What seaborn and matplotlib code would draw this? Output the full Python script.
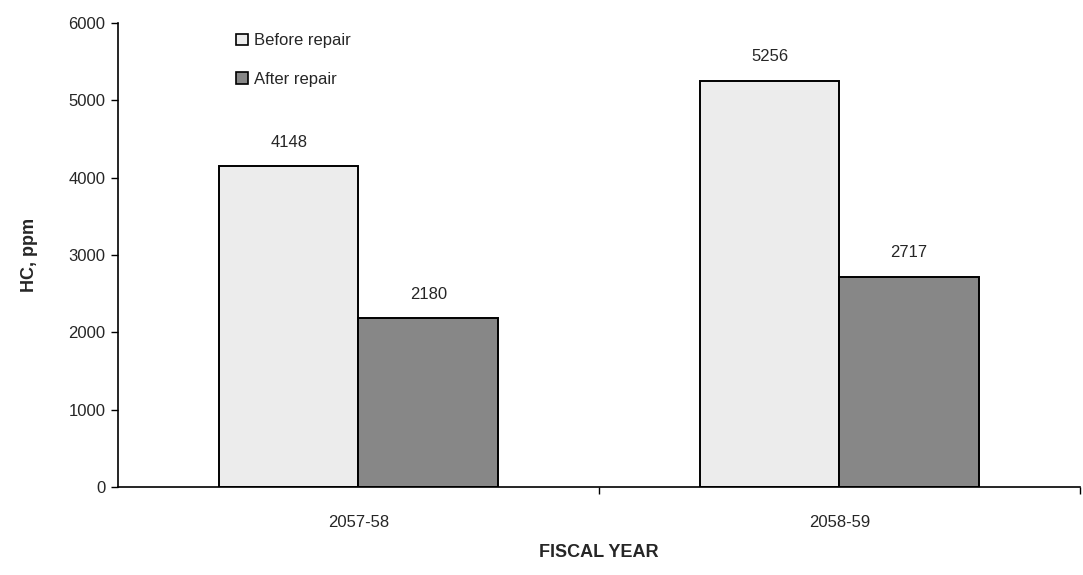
import pandas as pd
import numpy as np
import matplotlib.pyplot as plt
import seaborn as sns

years = ["2057-58", "2058-59"]
stages = ["Before repair", "After repair"]
before_repair = [4148, 5256]
after_repair = [2180, 2717]

# long format table for seaborn
df = pd.DataFrame({
    "year": years * 2,
    "stage": [stages[0]] * len(years) + [stages[1]] * len(years),
    "hc": before_repair + after_repair,
})

sns.set_style("white")
plt.rcParams["font.family"] = ["Liberation Sans", "DejaVu Sans"]

fig = plt.figure(figsize=(10.83, 5.75), dpi=100)
ax = fig.add_axes([0.109, 0.153, 0.888, 0.807])

palette = {stages[0]: "#ececec", stages[1]: "#878787"}
sns.barplot(data=df, x="year", y="hc", hue="stage", hue_order=stages,
            palette=palette, width=0.58, edgecolor="black", linewidth=1.4,
            saturation=1, ax=ax)

for container in ax.containers:
    ax.bar_label(container, fmt="%d", padding=12, fontsize=12)

ax.set_xlim(-0.5, 1.5)
ax.set_ylim(0, 6000)
ax.set_yticks(np.arange(0, 6001, 1000))
ax.tick_params(axis="y", direction="out", length=5, width=1, left=True, labelsize=12, pad=4, color="black")
ax.tick_params(axis="x", which="major", length=0, labelsize=12, pad=20)
ax.set_xticks([0.5, 1.5], minor=True)
ax.tick_params(axis="x", which="minor", direction="out", length=5, width=1, bottom=True, color="black")

for side in ["top", "right"]:
    ax.spines[side].set_visible(False)
for side in ["left", "bottom"]:
    ax.spines[side].set_color("black")
    ax.spines[side].set_linewidth(1.2)

ax.set_xlabel("FISCAL YEAR", fontsize=13, fontweight="bold", labelpad=10)
ax.set_ylabel("HC, ppm", fontsize=13, fontweight="bold", labelpad=22)

leg = ax.legend(loc="upper left", bbox_to_anchor=(0.107, 1.01), frameon=False,
                fontsize=12, handlelength=0.7, handleheight=0.7, handletextpad=0.4,
                labelspacing=1.4)
for h in leg.legend_handles:
    h.set_edgecolor("black")
    h.set_linewidth(1.2)

fig.savefig("out.png", dpi=100)
